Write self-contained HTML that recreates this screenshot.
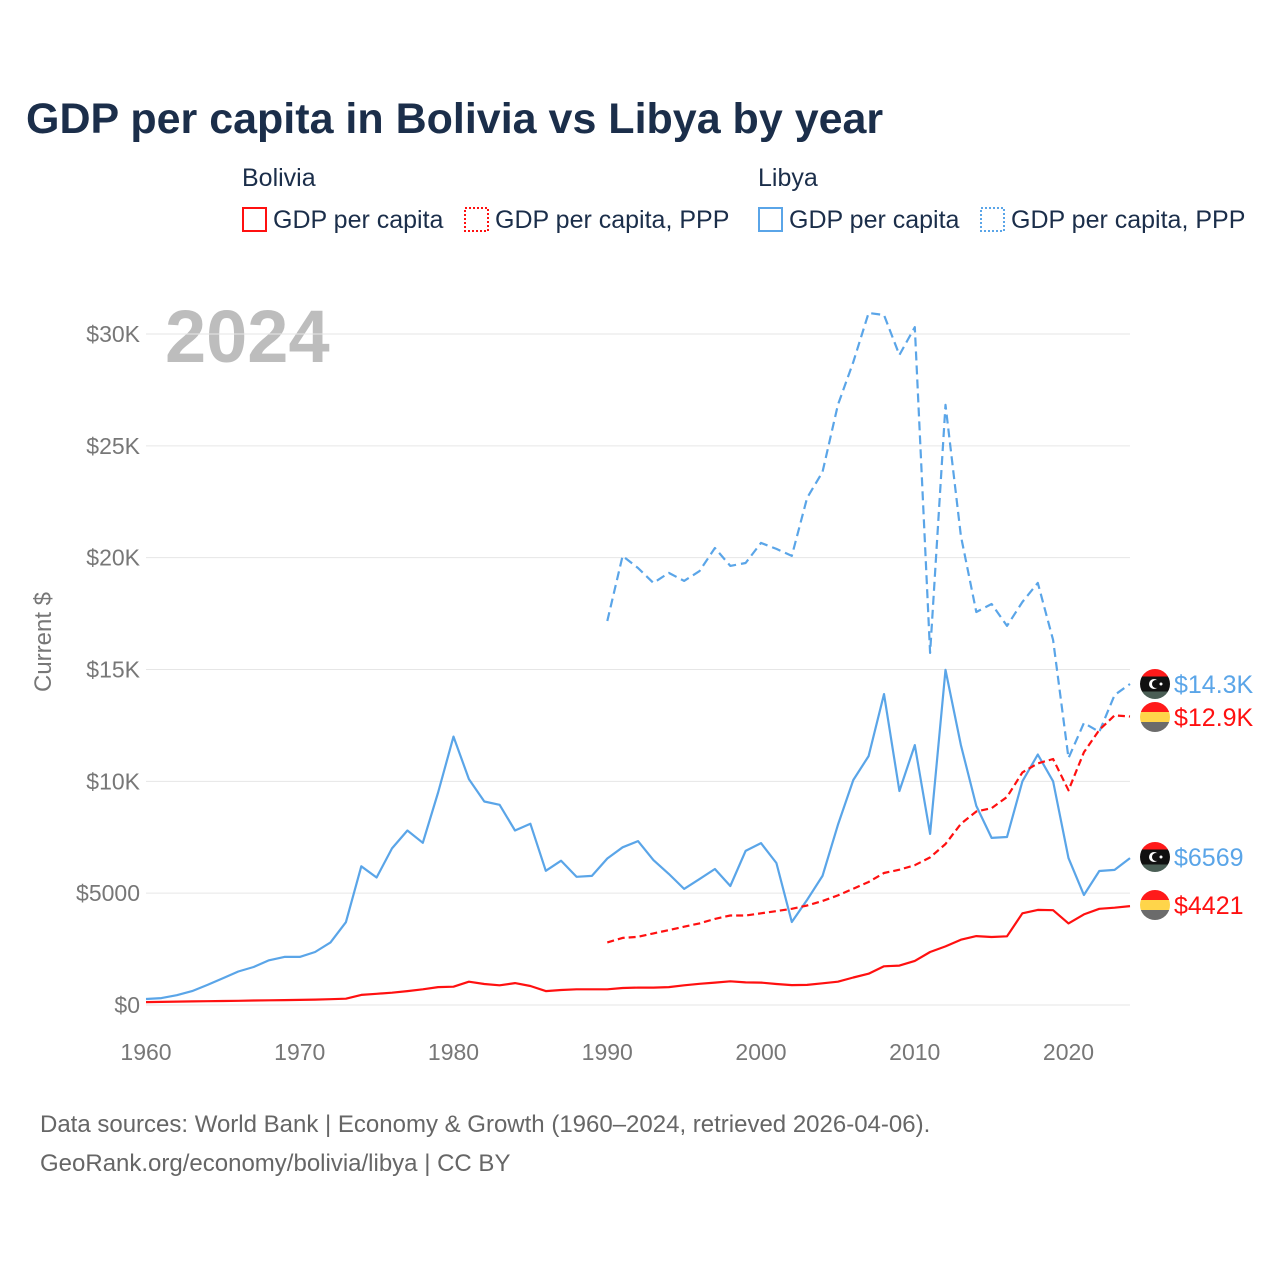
<!DOCTYPE html>
<html><head><meta charset="utf-8">
<style>
html,body{margin:0;padding:0;background:#fff;}
body{width:1280px;height:1280px;overflow:hidden;font-family:"Liberation Sans",sans-serif;}
</style></head>
<body>
<svg id="chart" width="1280" height="1280" xmlns="http://www.w3.org/2000/svg" font-family="Liberation Sans, sans-serif">
<defs>
 <clipPath id="fc1"><circle cx="0" cy="0" r="15"/></clipPath>
</defs>
<text x="26" y="133" font-size="43" font-weight="bold" fill="#1b2e4a">GDP per capita in Bolivia vs Libya by year</text>
<g font-size="25" fill="#1b2e4a">
 <text x="242" y="186">Bolivia</text>
 <text x="758" y="186">Libya</text>
 <g><rect x="243" y="208" width="23" height="23" fill="none" stroke="#ff1010" stroke-width="2"/><text x="273" y="228">GDP per capita</text></g>
 <g><rect x="465" y="208" width="23" height="23" fill="none" stroke="#ff1010" stroke-width="2" stroke-dasharray="2,2"/><text x="495" y="228">GDP per capita, PPP</text></g>
 <g><rect x="759" y="208" width="23" height="23" fill="none" stroke="#5aa5e8" stroke-width="2"/><text x="789" y="228">GDP per capita</text></g>
 <g><rect x="981" y="208" width="23" height="23" fill="none" stroke="#5aa5e8" stroke-width="2" stroke-dasharray="2,2"/><text x="1011" y="228">GDP per capita, PPP</text></g>
</g>
<text x="165" y="362" font-size="74" font-weight="bold" fill="#bdbdbd">2024</text>
<text transform="translate(51,642) rotate(-90)" text-anchor="middle" font-size="24" fill="#777">Current $</text>
<g id="grid"></g>
<g id="series"></g>
<g id="ends"></g>
<text x="40" y="1132" font-size="24" fill="#666">Data sources: World Bank | Economy &amp; Growth (1960–2024, retrieved 2026-04-06).</text>
<text x="40" y="1171" font-size="24" fill="#666">GeoRank.org/economy/bolivia/libya | CC BY</text>
</svg>
<script>
const yTicks=[0,5000,10000,15000,20000,25000,30000];
const yTickLabels=["$0","$5000","$10K","$15K","$20K","$25K","$30K"];
const xTicks=[1960,1970,1980,1990,2000,2010,2020];
const libyaGdp=[270,310,440,620,900,1200,1500,1700,2000,2150,2150,2370,2800,3700,6200,5700,7000,7800,7250,9500,12000,10100,9100,8950,7800,8100,6000,6450,5730,5770,6550,7050,7330,6480,5860,5190,5630,6080,5320,6890,7240,6350,3710,4700,5770,8050,10060,11130,13900,9570,11620,7650,14980,11620,8900,7470,7510,10000,11200,10000,6570,4920,5990,6040,6569];
const libyaPpp=[17170,20080,19540,18870,19320,18960,19400,20430,19630,19760,20660,20390,20080,22670,23830,26830,28750,30940,30850,29060,30310,15740,26830,20970,17570,17930,16950,18020,18870,16320,11040,12610,12210,13860,14350];
const boliviaGdp=[130,140,150,160,170,180,190,200,210,220,230,240,260,280,450,500,550,620,700,800,820,1040,940,880,980,850,620,670,700,700,700,760,780,780,800,880,950,1000,1060,1010,1000,940,890,900,970,1040,1230,1400,1730,1760,1970,2370,2620,2920,3080,3040,3070,4100,4250,4240,3650,4050,4300,4350,4421];
const boliviaPpp=[2800,3000,3050,3200,3350,3500,3650,3850,4000,4000,4100,4200,4300,4450,4650,4900,5200,5500,5900,6050,6250,6600,7200,8100,8650,8800,9300,10400,10800,11000,9600,11300,12300,12950,12900];
const endLabels=["$14.3K","$12.9K","$6569","$4421"];

const NS="http://www.w3.org/2000/svg";
const X=y=>146+(y-1960)*(1130-146)/64;
const Y=v=>1005-v*(1005-334)/30000;
function mk(t,a,p){const e=document.createElementNS(NS,t);for(const k in a)e.setAttribute(k,a[k]);p.appendChild(e);return e;}
const grid=document.getElementById('grid');
yTicks.forEach((v,i)=>{
 const l=mk('line',{x1:146,x2:1130,y1:Y(v),y2:Y(v),stroke:'#e6e6e6','stroke-width':1},grid);
 
 
 const t=mk('text',{x:140,y:Y(v)+8,'text-anchor':'end','font-size':23,fill:'#777'},grid);
 t.textContent=yTickLabels[i];
 
 
});
xTicks.forEach(v=>{
 const t=mk('text',{x:X(v),y:1060,'text-anchor':'middle','font-size':23,fill:'#777'},grid);
 t.textContent=v;
 
 
});
const ser=document.getElementById('series');
function line(data,start,color,dash,name){
 const d=data.map((v,i)=>(i?'L':'M')+X(start+i).toFixed(1)+','+Y(v).toFixed(1)).join('');
 const p=mk('path',{d:d,fill:'none',stroke:color,'stroke-width':2.2,'stroke-linejoin':'round'},ser);
 if(dash)p.setAttribute('stroke-dasharray',dash);
 
 
}
line(libyaPpp,1990,'#5aa5e8','9,5','line-libya-ppp');
line(libyaGdp,1960,'#5aa5e8',null,'line-libya-gdp');
line(boliviaPpp,1990,'#ff1010','7,4','line-bolivia-ppp');
line(boliviaGdp,1960,'#ff1010',null,'line-bolivia-gdp');
const ends=document.getElementById('ends');
function flag(cy,libya,label,color,name){
 const g=mk('g',{transform:'translate(1155,'+cy+')'},ends);
 
 
 const cols=libya?['#ff1a1a','#111','#4a5e55']:['#ff1a1a','#ffd54a','#6b6b6b'];
 const hs=libya?[7.5,15,7.5]:[10,10,10];
 let y=-15;
 cols.forEach((c,i)=>{mk('rect',{x:-15,y:y,width:30,height:hs[i],fill:c,'clip-path':'url(#fc1)'},g);y+=hs[i];});
 if(libya){mk('circle',{cx:-1,cy:0,r:5,fill:'#fff'},g);mk('circle',{cx:1,cy:0,r:4,fill:'#111'},g);mk('circle',{cx:6,cy:0,r:1.5,fill:'#fff'},g);}
 const t=mk('text',{x:19,y:9,'font-size':25,fill:color},g);
 t.textContent=label;
}
flag(684,true,endLabels[0],'#5aa5e8','end-label-libya-ppp');
flag(717,false,endLabels[1],'#ff1010','end-label-bolivia-ppp');
flag(857,true,endLabels[2],'#5aa5e8','end-label-libya-gdp');
flag(905,false,endLabels[3],'#ff1010','end-label-bolivia-gdp');
</script>
</body></html>
